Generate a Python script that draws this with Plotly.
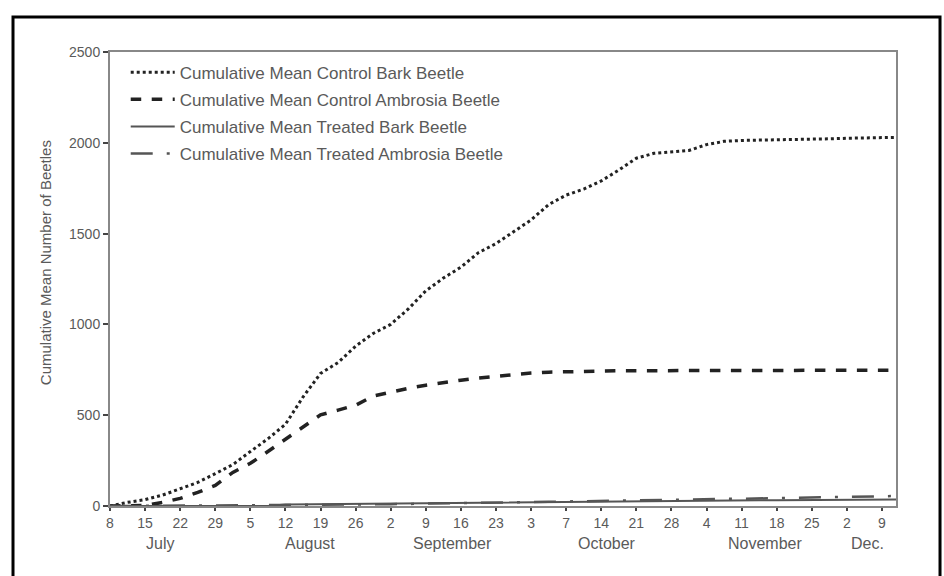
import plotly.graph_objects as go

# weeks since July 8 (half-week sampling)
weeks = [i * 0.5 for i in range(45)] + [22.4]

control_bark = [0, 20, 35, 60, 95, 130, 178, 228, 300, 370, 450, 600, 730, 790, 880, 950,
                1000, 1085, 1185, 1255, 1315, 1395, 1445, 1510, 1575, 1660, 1712, 1745, 1790,
                1850, 1915, 1942, 1948, 1958, 1990, 2008, 2013, 2014, 2015, 2017, 2019, 2022,
                2025, 2027, 2030, 2030]
control_ambrosia = [0, 0, 3, 20, 42, 75, 113, 185, 235, 300, 368, 437, 502, 528, 555, 605,
                    628, 648, 665, 680, 693, 705, 715, 725, 732, 737, 740, 742, 744, 745, 745,
                    745, 746, 746, 746, 746, 747, 747, 747, 747, 747, 748, 748, 748, 748, 748]
treated_bark = [0, 0, 0, 0, 0, 0, 0, 0, 0, 0, 8, 9, 10, 11, 11, 12, 13, 14, 15, 16, 17, 17, 18,
                19, 20, 21, 22, 23, 24, 25, 25, 26, 27, 28, 28, 29, 30, 31, 31, 32, 33, 34, 34,
                35, 35, 36]
treated_ambrosia = [0, 0, 1, 1, 2, 2, 3, 3, 4, 5, 5, 6, 6, 7, 8, 9, 10, 11, 12, 14, 15, 17, 19,
                    20, 22, 23, 25, 27, 28, 30, 31, 33, 34, 36, 37, 39, 40, 42, 43, 45, 46, 48,
                    50, 51, 53, 55]

tick_vals = list(range(23))
tick_text = ["8", "15", "22", "29", "5", "12", "19", "26", "2", "9", "16", "23", "3", "7",
             "14", "21", "28", "4", "11", "18", "25", "2", "9"]
months = ["July", "August", "September", "October", "November", "Dec."]
month_pos = [1.42, 5.7, 9.77, 14.16, 18.67, 21.6]

FONT = "Liberation Sans, Arial, sans-serif"
GREY = "#5a5a5a"

fig = go.Figure()
series = [
    ("Cumulative Mean Control Bark Beetle", control_bark, dict(color="#222", width=3, dash="dot")),
    ("Cumulative Mean Control Ambrosia Beetle", control_ambrosia, dict(color="#222", width=3.5, dash="dash")),
    ("Cumulative Mean Treated Bark Beetle", treated_bark, dict(color="#555", width=2, dash="solid")),
    ("Cumulative Mean Treated Ambrosia Beetle", treated_ambrosia, dict(color="#555", width=2.5, dash="22px,14px,3px,14px")),
]
for i, (name, ys, line) in enumerate(series):
    fig.add_trace(go.Scatter(x=weeks, y=ys, mode="lines", name=name, line=line,
                             legendgroup=f"g{i}"))

for m, p in zip(months, month_pos):
    fig.add_annotation(x=p, y=-0.0815, xref="x", yref="paper", text=m, showarrow=False,
                       font=dict(family=FONT, size=16, color=GREY), xanchor="center", yanchor="middle")

fig.add_annotation(x=-0.0827, y=0.537, xref="paper", yref="paper",
                   text="Cumulative Mean Number of Beetles", textangle=-90, showarrow=False,
                   font=dict(family=FONT, size=15, color=GREY), xanchor="center", yanchor="middle")

fig.add_shape(type="rect", xref="paper", yref="paper", x0=-0.1234, x1=1.0560, y0=-0.3, y1=1.0771,
              line=dict(color="black", width=3), layer="above")

fig.update_layout(
    width=944, height=576,
    margin=dict(l=110, r=48, t=52, b=70),
    paper_bgcolor="white", plot_bgcolor="white",
    font=dict(family=FONT, size=13, color=GREY),
    showlegend=True,
    legend=dict(x=0.02, y=0.994, xanchor="left", yanchor="top", bgcolor="rgba(0,0,0,0)",
                font=dict(family=FONT, size=17, color=GREY), tracegroupgap=2, itemwidth=44),
    xaxis=dict(range=[0, 22.4], tickvals=tick_vals, ticktext=tick_text, showgrid=False,
               zeroline=False, showline=True, linecolor="#888", linewidth=2, mirror=True,
               ticks="outside", ticklen=3, tickcolor="#444", tickwidth=1.5,
               tickfont=dict(family=FONT, size=14, color=GREY)),
    yaxis=dict(range=[0, 2500], tickvals=[0, 500, 1000, 1500, 2000, 2500], showgrid=False,
               zeroline=False, showline=True, linecolor="#888", linewidth=2, mirror=True,
               ticks="outside", ticklen=5, tickcolor="#444", tickwidth=1.5,
               tickfont=dict(family=FONT, size=14, color=GREY)),
)

fig.write_html("out.html", config={"displayModeBar": False},
               post_script="document.body.style.margin='0';document.body.style.overflow='hidden';")
